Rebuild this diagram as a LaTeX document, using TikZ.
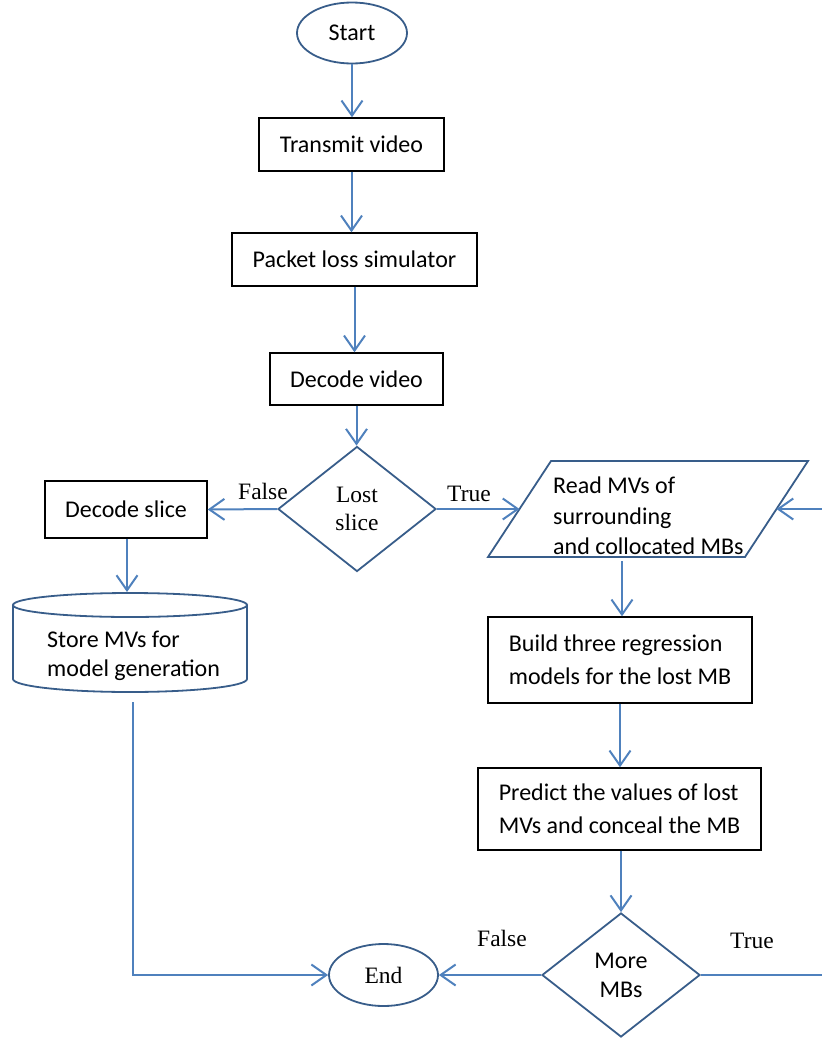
\documentclass[tikz,border=0pt]{standalone}
\usepackage{fontspec}
\setmainfont{Carlito}
\newfontfamily\tnr{Liberation Serif}
\usetikzlibrary{arrows.meta,shapes.geometric}
\definecolor{lineblue}{HTML}{4F81BD}
\definecolor{shapeblue}{HTML}{385D8A}

\begin{document}
\begin{tikzpicture}[x=1pt,y=-1pt,
  font=\fontsize{24}{33}\selectfont,
  conn/.style={draw=lineblue, line width=2pt,
    -{Straight Barb[length=15pt,width=21pt]}},
  plainline/.style={draw=lineblue, line width=2pt},
  terminal/.style={ellipse, draw=shapeblue, line width=1.8pt, inner sep=0pt},
  decision/.style={diamond, draw=shapeblue, line width=1.8pt, inner sep=0pt,
    align=center, minimum width=158pt},
  procbox/.style={rectangle, draw=black, line width=1.4pt, inner sep=0pt, align=left},
  shapeline/.style={draw=shapeblue, line width=1.8pt, line join=miter},
  branch/.style={font=\tnr\fontsize{23.5}{28}\selectfont, inner sep=0pt},
]
\useasboundingbox (0,0) rectangle (822,1042);

% main column
\node[terminal, minimum width=110pt, minimum height=61pt] (start) at (352,33) {Start};
\node[procbox, minimum width=185pt, minimum height=53pt] (transmit) at (351.5,144.5) {Transmit video};
\node[procbox, minimum width=245pt, minimum height=53pt] (packet) at (354.5,259.5) {Packet loss simulator};
\node[procbox, minimum width=173pt, minimum height=52pt] (decodev) at (356.5,379) {Decode video};
\node[decision, minimum height=125pt, font=\tnr\fontsize{23.5}{28}\selectfont] (lost) at (357,509) {Lost\\slice};

% false branch
\node[procbox, minimum width=162pt, minimum height=57pt] (decodes) at (126,509.5) {Decode slice};

% storage cylinder (y axis points down, so the lower rim runs from 180 to 0 degrees)
\draw[shapeline] (13,605) -- (13,679)
  arc[start angle=180, end angle=0, x radius=117, y radius=13]
  -- (247,605);
\draw[shapeline] (130,605) ellipse[x radius=117, y radius=12];
\node[anchor=west, inner sep=0pt, align=left, font=\fontsize{24}{28.5}\selectfont]
  (store) at (47,656) {Store MVs for\\model generation};
\coordinate (storetop) at (127,592);
\coordinate (storebot) at (133,702);
\coordinate (storecorner) at (133,975);

% true branch: input parallelogram
\coordinate (pTL) at (551,461);
\coordinate (pTR) at (808,461);
\coordinate (pBR) at (745,557);
\coordinate (pBL) at (488,557);
\draw[shapeline] (pTL) -- (pTR) -- (pBR) -- (pBL) -- cycle;
\node[anchor=west, inner sep=0pt, align=left, font=\fontsize{24}{30.5}\selectfont]
  (read) at (553,516) {Read MVs of\\surrounding\\and collocated MBs};
\coordinate (readL) at (519.5,509);
\coordinate (readR) at (776.5,509);
\coordinate (readB) at (622,561);

\node[procbox, minimum width=264pt, minimum height=86pt] (build) at (620,660)
  {Build three regression\\models for the lost MB};
\node[procbox, minimum width=283pt, minimum height=82pt] (predict) at (619.5,809)
  {Predict the values of lost\\MVs and conceal the MB};
\node[decision, minimum height=124pt, font=\fontsize{24}{29}\selectfont] (more) at (621,975) {More\\MBs};
\node[terminal, minimum width=109pt, minimum height=62pt, font=\tnr\fontsize{23.5}{28}\selectfont] (end) at (383.5,975) {End};

% loop back along the right margin
\coordinate (loopB) at (825,975);
\coordinate (loopT) at (825,509);

% connectors
\draw[conn] (start.south) -- (start.south |- transmit.north);
\draw[conn] (transmit.south) -- (transmit.south |- packet.north);
\draw[conn] (packet.south) -- (packet.south |- decodev.north);
\draw[conn] (decodev.south) -- (decodev.south |- lost.north);
\draw[conn] (lost.west) -- (decodes.east);
\draw[conn] (lost.east) -- (readL);
\draw[conn] (decodes.south -| storetop) -- (storetop);
\draw[conn] (readB) -- (readB |- build.north);
\draw[conn] (build.south) -- (build.south |- predict.north);
\draw[conn] (predict.south -| more.north) -- (more.north);
\draw[conn] (more.west) -- (end.east);
\draw[conn] (storebot) -- (storecorner) -- (end.west);
\draw[plainline] (more.east) -- (loopB) -- (loopT);
\draw[conn] (loopT) -- (readR);

% branch labels
\node[branch] (f1) at (263,491) {False};
\node[branch] (t1) at (469,494) {True};
\node[branch] (f2) at (502,938) {False};
\node[branch] (t2) at (752,941) {True};
\end{tikzpicture}
\end{document}
